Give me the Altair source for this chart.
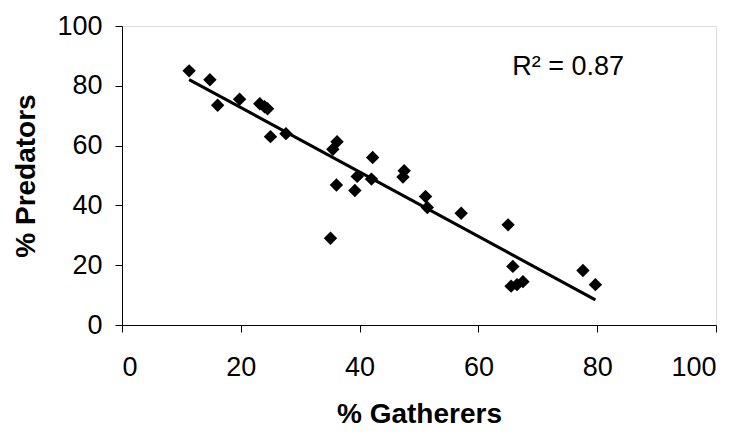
import altair as alt
import pandas as pd

gatherers = [11.3, 14.8, 16.1, 19.8, 23.2, 24.0, 24.5, 25.0, 27.6, 36.2, 35.5,
             42.2, 36.1, 39.6, 39.2, 42.0, 47.5, 47.3, 51.1, 51.4, 57.1, 35.1,
             65.0, 65.8, 65.5, 66.5, 67.5, 77.6, 79.7]
predators = [85.0, 82.0, 73.5, 75.5, 74.0, 73.0, 72.3, 63.0, 64.0, 61.3, 58.8,
             56.0, 46.8, 49.7, 45.0, 48.8, 51.6, 49.5, 43.0, 39.3, 37.4, 29.0,
             33.5, 19.6, 13.0, 13.5, 14.5, 18.2, 13.5]

r2_label = ["R² = 0.87"]
r2_x = [75.1]
r2_y = [86.3]

df = pd.DataFrame({"g": gatherers, "p": predators})
lab = pd.DataFrame({"t": r2_label, "x": r2_x, "y": r2_y})

xscale = alt.Scale(domain=[0, 100], nice=False, zero=True)
yscale = alt.Scale(domain=[0, 100], nice=False, zero=True)

xaxis = alt.Axis(values=[0, 20, 40, 60, 80, 100], grid=False, tickSize=7,
                 labelPadding=22, labelFontSize=27, labelFont="Liberation Sans",
                 labelColor="black", domainColor="black", tickColor="black",
                 title="% Gatherers", titleFontSize=28, titleFont="Liberation Sans",
                 titleFontWeight="bold", titleColor="black", titleY=89,
                 titleBaseline="middle")
yaxis = alt.Axis(values=[0, 20, 40, 60, 80, 100], grid=False, tickSize=7,
                 labelPadding=13, labelFontSize=27, labelFont="Liberation Sans",
                 labelColor="black", domainColor="black", tickColor="black",
                 title="% Predators", titleFontSize=28, titleFont="Liberation Sans",
                 titleFontWeight="bold", titleColor="black", titleX=-96,
                 titleBaseline="middle")

base = alt.Chart(df)
points = base.mark_point(shape="diamond", filled=True, color="black", size=180, opacity=1).encode(
    x=alt.X("g:Q", scale=xscale, axis=xaxis),
    y=alt.Y("p:Q", scale=yscale, axis=yaxis),
)
line = base.transform_regression("g", "p").mark_line(color="black", strokeWidth=3).encode(
    x=alt.X("g:Q", scale=xscale),
    y=alt.Y("p:Q", scale=yscale),
)
text = alt.Chart(lab).mark_text(fontSize=27, font="Liberation Sans", color="black").encode(
    x=alt.X("x:Q", scale=xscale),
    y=alt.Y("y:Q", scale=yscale),
    text="t:N",
)

chart = (points + line + text).properties(
    width=594, height=299,
    autosize=alt.AutoSizeParams(type="none"),
    padding={"left": 114, "top": 18, "right": 10, "bottom": 105},
).configure_view(stroke=None).configure(background="white")

chart.save("out.html", embed_options={"renderer": "svg", "actions": False})
